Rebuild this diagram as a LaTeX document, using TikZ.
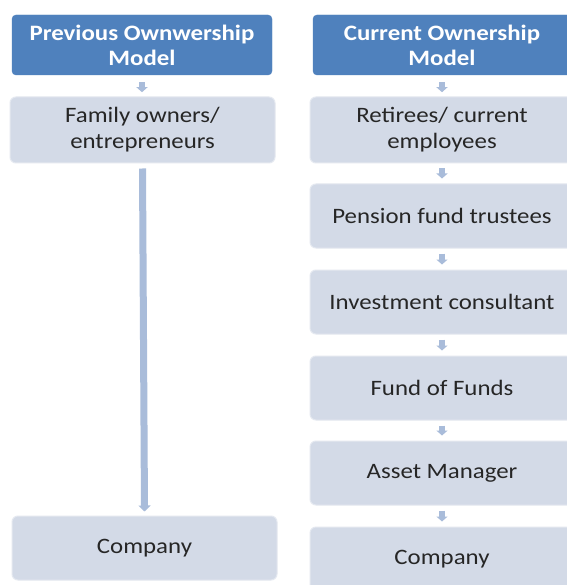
\documentclass[tikz,border=0pt]{standalone}
\usepackage{fontspec}
\setmainfont{Carlito}[FakeStretch=1.13]
\usetikzlibrary{arrows.meta}
\definecolor{hdr}{HTML}{4F81BD}
\definecolor{boxc}{HTML}{D3DAE7}
\definecolor{boxe}{HTML}{E4E8F0}
\definecolor{arr}{HTML}{A9BCDA}
\tikzset{
  hdrbox/.style={rectangle, rounded corners=4pt, fill=hdr, draw=hdr, text=white,
    font=\fontsize{22}{25}\selectfont\bfseries, align=center, inner sep=0pt},
  itembox/.style={rectangle, rounded corners=6pt, fill=boxc, draw=boxe, line width=1pt,
    text=black!85, font=\fontsize{22}{26}\selectfont, align=center, inner sep=0pt},
  flow/.style={draw=arr, line width=6pt, -{Triangle[width=11pt,length=5pt]}, shorten >=0pt},
}
\begin{document}
\begin{tikzpicture}[x=1pt,y=-1pt]
\useasboundingbox[fill=white] (0,0) rectangle (566,585);
% left column
\node[hdrbox, minimum width=260pt, minimum height=60pt] (lh) at (142,45) {Previous Ownwership\\Model};
\node[itembox, minimum width=265pt, minimum height=66pt] (l1) at (142.5,130) {Family owners/\\entrepreneurs};
\node[itembox, minimum width=265pt, minimum height=64pt] (l2) at (144.5,548) {Company};
% right column
\node[hdrbox, minimum width=258pt, minimum height=60pt] (rh) at (442,45) {Current Ownership\\Model};
\node[itembox, minimum width=264pt, minimum height=66pt] (r1) at (442,130) {Retirees/ current\\employees};
\node[itembox, minimum width=264pt, minimum height=64pt] (r2) at (442,216) {Pension fund trustees};
\node[itembox, minimum width=264pt, minimum height=64pt] (r3) at (442,302) {Investment consultant};
\node[itembox, minimum width=264pt, minimum height=64pt] (r4) at (442,388) {Fund of Funds};
\node[itembox, minimum width=264pt, minimum height=64pt] (r5) at (442,473) {Asset Manager};
\node[itembox, minimum width=264pt, minimum height=64pt] (r6) at (442,559) {Company};
% arrows
\draw[flow] ([yshift=-7pt]lh.south) -- ([yshift=-17pt]lh.south);
\draw[flow, line width=7pt, -{Triangle[width=12pt,length=6pt]}] ([yshift=-5pt]l1.south) -- ([yshift=4pt]l2.north);
\draw[flow] ([yshift=-7pt]rh.south) -- ([yshift=-17pt]rh.south);
\foreach \a/\b in {r1/r2, r2/r3, r3/r4, r4/r5, r5/r6}{
  \draw[flow] ([yshift=-5pt]\a.south) -- ([yshift=5pt]\b.north);
}
\end{tikzpicture}
\end{document}
